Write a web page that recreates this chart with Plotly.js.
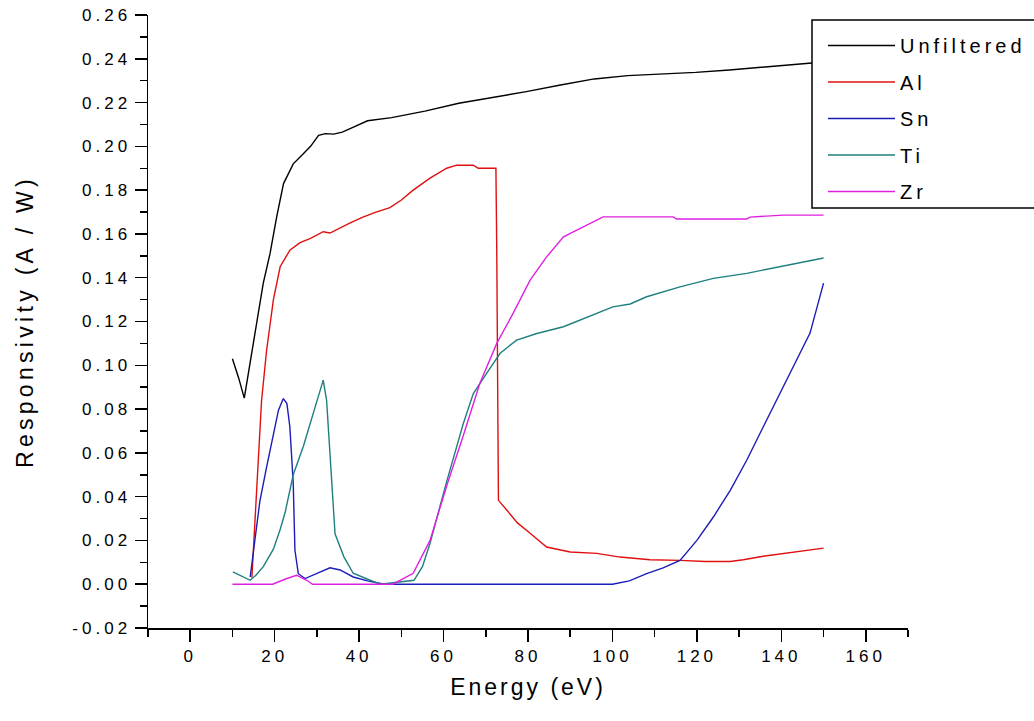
<!DOCTYPE html>
<html>
<head>
<meta charset="utf-8">
<script src="https://cdn.plot.ly/plotly-3.0.1.min.js"></script>
<style>
  html, body { margin: 0; padding: 0; background: #ffffff; }
  #chart { width: 1034px; height: 721px; }
  .legendtext { letter-spacing: 4px; }
  .xtick text, .ytick text { letter-spacing: 4px; }
  .g-xtitle text { letter-spacing: 3px; }
  .g-ytitle text { letter-spacing: 4.3px; }
</style>
</head>
<body>
<div id="chart"></div>
<script>
// ---- Data ----
const seriesNames = ["Unfiltered", "Al", "Sn", "Ti", "Zr"];

const unfX = [10, 11.5, 12.8, 14.2, 15.8, 17.3, 18.9, 20.5, 22.1, 24.4, 26.5, 28.5, 30.4, 32, 34, 36, 38, 42, 47.7, 55.6, 63.6, 71.6, 79.6, 87.7, 95.7, 103.6, 111.7, 119.7, 127.7, 135.7, 143.7, 146.9, 150];
const unfY = [0.103, 0.094, 0.085, 0.101, 0.119, 0.1375, 0.151, 0.168, 0.183, 0.192, 0.196, 0.200, 0.205, 0.2058, 0.2056, 0.2065, 0.2082, 0.2117, 0.2131, 0.2161, 0.2197, 0.2222, 0.2250, 0.2280, 0.2308, 0.2323, 0.2330, 0.2338, 0.2349, 0.2361, 0.2375, 0.2379, 0.2385];

const alX = [14.6, 15.75, 16.9, 18.1, 19.7, 21.3, 23.6, 26.0, 28.5, 31.5, 33.1, 37.9, 40.9, 44, 47.3, 50, 52.8, 56.8, 60.75, 63.1, 67.05, 68.2, 72.4, 72.6, 73.0, 75.0, 77.5, 80.5, 84.4, 90, 96.3, 101.8, 108.9, 116, 122, 127.9, 131, 135.7, 143.7, 150];
const alY = [0.003, 0.046, 0.084, 0.107, 0.130, 0.145, 0.1526, 0.156, 0.158, 0.161, 0.1604, 0.165, 0.1677, 0.170, 0.172, 0.1755, 0.180, 0.1855, 0.190, 0.1914, 0.1914, 0.190, 0.190, 0.1526, 0.0383, 0.0338, 0.028, 0.0233, 0.017, 0.0147, 0.0141, 0.0124, 0.0112, 0.0109, 0.0104, 0.0104, 0.0112, 0.0128, 0.0147, 0.0165];

const snX = [14.2, 16.5, 18.1, 19.7, 20.9, 22.05, 22.9, 23.6, 24.4, 24.8, 25.6, 27.2, 30, 33.1, 35.5, 38.6, 42, 46, 50, 100, 104, 108.1, 112, 116, 120, 123.9, 127.9, 131.8, 135.7, 139.7, 143.65, 146.8, 150];
const snY = [0.0033, 0.038, 0.0536, 0.0688, 0.0795, 0.0848, 0.0825, 0.0718, 0.046, 0.0155, 0.0048, 0.0026, 0.005, 0.0075, 0.0065, 0.0033, 0.0015, 0, 0, 0, 0.0015, 0.0048, 0.0075, 0.0109, 0.020, 0.0307, 0.0429, 0.0566, 0.0718, 0.0871, 0.1023, 0.1147, 0.1375];

const tiX = [10.1, 12, 14.2, 15.5, 17.3, 19.7, 21.3, 22.5, 24.4, 26.8, 29.2, 31.5, 32.3, 33.5, 34.3, 36.4, 38.6, 42.6, 45, 53, 55, 56.8, 58.4, 60.75, 64.7, 67.05, 70.2, 73.4, 77.3, 82.1, 88.4, 96.3, 100.1, 104.2, 108.1, 116, 123.9, 131.8, 139.7, 149.2, 150];
const tiY = [0.0056, 0.004, 0.0018, 0.004, 0.008, 0.016, 0.025, 0.033, 0.050, 0.063, 0.078, 0.0932, 0.084, 0.046, 0.023, 0.0125, 0.005, 0.0018, 0, 0.0018, 0.008, 0.0187, 0.030, 0.047, 0.0735, 0.0871, 0.0963, 0.1055, 0.1115, 0.1145, 0.1176, 0.1237, 0.1267, 0.128, 0.1313, 0.1358, 0.1397, 0.142, 0.145, 0.1488, 0.149];

const zrX = [10, 19.5, 22.9, 25.2, 27.6, 29, 48, 49.7, 52.8, 56.8, 60.75, 64.7, 68.6, 72.6, 76.5, 80.5, 84.4, 88.4, 92.3, 97.8, 114.4, 115.2, 131.8, 132.6, 140.4, 150];
const zrY = [0, 0, 0.0026, 0.0041, 0.0018, 0, 0, 0.0018, 0.005, 0.02, 0.045, 0.068, 0.0918, 0.110, 0.1238, 0.1389, 0.1495, 0.1587, 0.1625, 0.1678, 0.1678, 0.1668, 0.1668, 0.1677, 0.1686, 0.1686];

const xTickVals = [0, 20, 40, 60, 80, 100, 120, 140, 160];
const xTickText = ["0", "20", "40", "60", "80", "100", "120", "140", "160"];
const yTickVals = [-0.02, 0, 0.02, 0.04, 0.06, 0.08, 0.10, 0.12, 0.14, 0.16, 0.18, 0.20, 0.22, 0.24, 0.26];
const yTickText = ["-0.02", "0.00", "0.02", "0.04", "0.06", "0.08", "0.10", "0.12", "0.14", "0.16", "0.18", "0.20", "0.22", "0.24", "0.26"];

const xs = [unfX, alX, snX, tiX, zrX];
const ys = [unfY, alY, snY, tiY, zrY];
const colors = ["#000000", "#e01010", "#1c1cb8", "#1f7f7f", "#e020e0"];

const FONT = "Liberation Sans, Arial, Helvetica, sans-serif";

const traces = seriesNames.map((n, i) => ({
  type: "scatter",
  mode: "lines",
  name: n,
  legendgroup: "g" + i,
  x: xs[i],
  y: ys[i],
  line: { color: colors[i], width: 1.4 }
}));

// plot area in pixels: left 148, right 908, top 15, bottom 627.7
const L = 148, R = 908, T = 15, B = 627.7, W = 1034, H = 721;
const px2x = p => (p - L) / (R - L);
const px2y = p => (B - p) / (B - T);

const layout = {
  width: W, height: H,
  margin: { l: L, r: W - R, t: T, b: H - B, pad: 0, autoexpand: false },
  paper_bgcolor: "#ffffff",
  plot_bgcolor: "#ffffff",
  font: { family: FONT, color: "#000000" },
  showlegend: true,
  xaxis: {
    range: [-10, 170],
    tickmode: "array", tickvals: xTickVals, ticktext: xTickText,
    ticks: "outside", ticklen: 12, tickwidth: 1.5, tickcolor: "#000",
    minor: { dtick: 10, tick0: 0, ticks: "outside", ticklen: 7, tickwidth: 1.5, tickcolor: "#000", showgrid: false },
    showline: true, linecolor: "#000", linewidth: 1.5,
    showgrid: false, zeroline: false,
    tickfont: { family: FONT, size: 17, color: "#000" },
    title: { text: "Energy (eV)", font: { family: FONT, size: 23, color: "#000" }, standoff: 14 }
  },
  yaxis: {
    range: [-0.02, 0.26],
    tickmode: "array", tickvals: yTickVals, ticktext: yTickText,
    ticks: "outside", ticklen: 12, tickwidth: 1.5, tickcolor: "#000",
    minor: { dtick: 0.01, tick0: 0, ticks: "outside", ticklen: 7, tickwidth: 1.5, tickcolor: "#000", showgrid: false },
    showline: true, linecolor: "#000", linewidth: 1.5,
    showgrid: false, zeroline: false,
    tickfont: { family: FONT, size: 17, color: "#000" },
    title: { text: "Responsivity (A / W)", font: { family: FONT, size: 23, color: "#000" }, standoff: 32 }
  },
  legend: {
    x: px2x(823), xanchor: "left",
    y: px2y(26), yanchor: "top",
    bgcolor: "rgba(0,0,0,0)",
    borderwidth: 0,
    font: { family: FONT, size: 20, color: "#000" },
    itemwidth: 67,
    tracegroupgap: 7.5,
    traceorder: "grouped"
  },
  shapes: [{
    type: "rect", xref: "paper", yref: "paper", layer: "above",
    x0: px2x(812), x1: px2x(1045), y0: px2y(208), y1: px2y(20),
    fillcolor: "#ffffff",
    line: { color: "#000000", width: 1.5 }
  }]
};

Plotly.newPlot("chart", traces, layout, { displayModeBar: false, staticPlot: true });
</script>
</body>
</html>
